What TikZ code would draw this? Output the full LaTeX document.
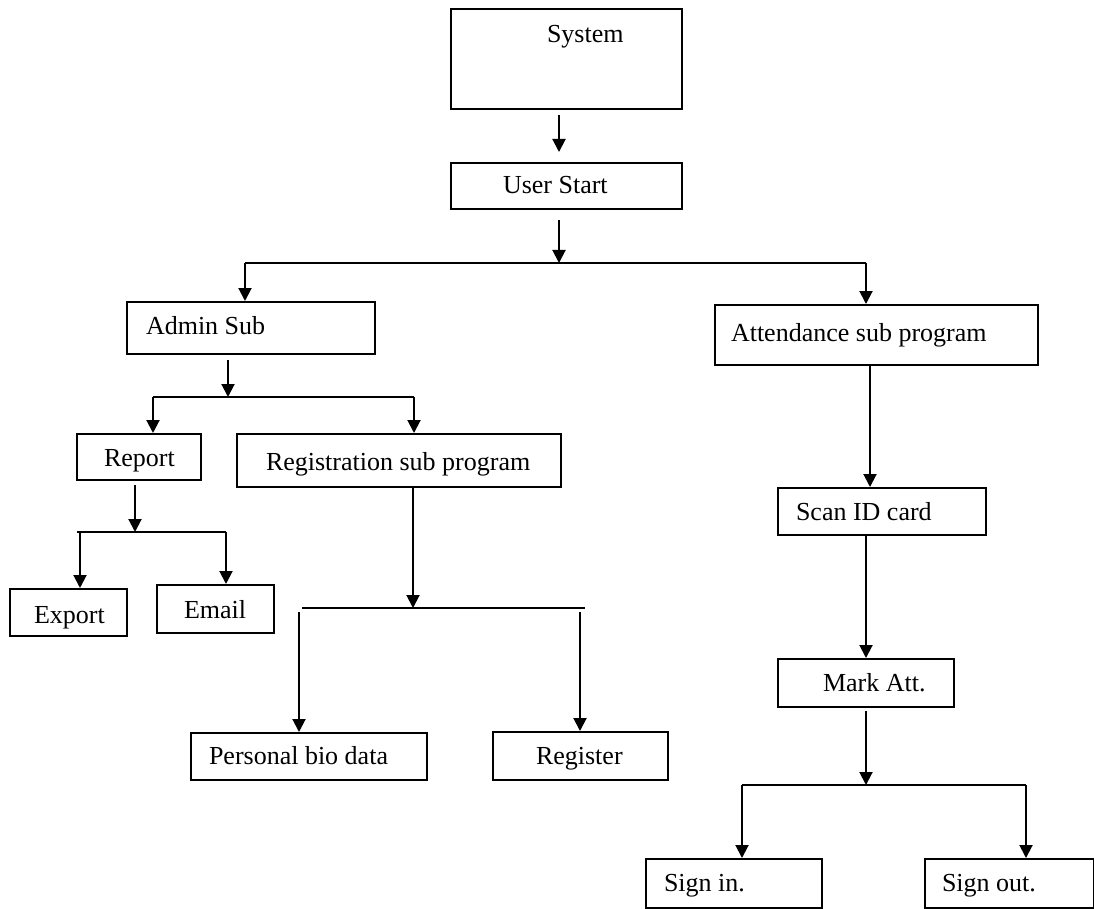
\documentclass[tikz,border=0pt]{standalone}
\usepackage{fontspec}
\setmainfont{Liberation Serif}
\usetikzlibrary{arrows.meta}
\tikzset{
  bx/.style={draw, line width=2pt, inner sep=0pt, anchor=north west,
    font=\fontsize{26}{30}\selectfont},
  arr/.style={line width=2pt, -{Triangle[width=13pt,length=13pt]}},
  ln/.style={line width=2pt}
}
\newcommand{\bt}[3]{\makebox[#1pt][l]{\hspace*{#2pt}#3}}
\begin{document}
\begin{tikzpicture}[x=1pt,y=-1pt]
\useasboundingbox (0,0) rectangle (1094,909);
% boxes
\node[bx, minimum width=231pt, minimum height=100pt, text height=34pt, text depth=66pt] (sys) at (450,8) {\bt{231}{96}{System}};
\node[bx, minimum width=231pt, minimum height=46pt, text height=31pt, text depth=15pt] (us) at (450,162) {\bt{231}{52}{User Start}};
\node[bx, minimum width=248pt, minimum height=52pt, text height=32pt, text depth=20pt] (adm) at (126,301) {\bt{248}{19}{Admin Sub}};
\node[bx, minimum width=323pt, minimum height=60pt, text height=36pt, text depth=24pt] (att) at (714,304) {\bt{323}{16}{Attendance sub program}};
\node[bx, minimum width=124pt, minimum height=46pt, text height=32pt, text depth=14pt] (rep) at (76,433) {\bt{124}{27}{Report}};
\node[bx, minimum width=324pt, minimum height=53pt, text height=36pt, text depth=17pt] (reg) at (236,433) {\bt{324}{29}{Registration sub program}};
\node[bx, minimum width=117pt, minimum height=47pt, text height=34pt, text depth=13pt] (exp) at (9,588) {\bt{117}{24}{Export}};
\node[bx, minimum width=117pt, minimum height=48pt, text height=33pt, text depth=15pt] (eml) at (156,584) {\bt{117}{27}{Email}};
\node[bx, minimum width=236pt, minimum height=47pt, text height=31pt, text depth=16pt] (pbd) at (190,732) {\bt{236}{18}{Personal bio data}};
\node[bx, minimum width=175pt, minimum height=48pt, text height=32pt, text depth=16pt] (rgr) at (492,731) {\bt{175}{43}{Register}};
\node[bx, minimum width=208pt, minimum height=47pt, text height=32pt, text depth=15pt] (scan) at (777,487) {\bt{208}{18}{Scan ID card}};
\node[bx, minimum width=176pt, minimum height=48pt, text height=32pt, text depth=16pt] (mark) at (777,658) {\bt{176}{45}{Mark Att.}};
\node[bx, minimum width=176pt, minimum height=49pt, text height=32pt, text depth=17pt] (sin) at (645,858) {\bt{176}{18}{Sign in.}};
\node[bx, minimum width=169pt, minimum height=49pt, text height=32pt, text depth=17pt] (sout) at (924,858) {\bt{169}{17}{Sign out.}};
% junction coordinates
\coordinate (j0) at (559,152);
\coordinate (j1m) at (559,263);
\coordinate (j1l) at (245,263);
\coordinate (j1r) at (866,263);
\coordinate (j2m) at (228,397);
\coordinate (j2l) at (153,397);
\coordinate (j2r) at (414,397);
\coordinate (j3m) at (135,532);
\coordinate (j3l) at (77,532);
\coordinate (j3r) at (226,532);
\coordinate (j3a) at (80,532);
\coordinate (j4m) at (413,608);
\coordinate (j4l) at (302,608);
\coordinate (j4r) at (585,608);
\coordinate (j4a) at (299,612);
\coordinate (j4b) at (580,612);
\coordinate (ja) at (870,364);
\coordinate (jb) at (866,534);
\coordinate (j5m) at (866,785);
\coordinate (j5l) at (742,785);
\coordinate (j5r) at (1026,785);
% connectors
\draw[arr, shorten <=5pt] (sys.south -| j0) -- (j0);
\draw[arr, shorten <=10pt] (us.south -| j1m) -- (j1m);
\draw[ln] (j1l) -- (j1r);
\draw[arr] (j1l) -- (adm.north -| j1l);
\draw[arr] (j1r) -- (att.north -| j1r);
\draw[arr, shorten <=5pt] (adm.south -| j2m) -- (j2m);
\draw[ln] (j2l) -- (j2r);
\draw[arr] (j2l) -- (rep.north -| j2l);
\draw[arr] (j2r) -- (reg.north -| j2r);
\draw[arr, shorten <=4pt] (rep.south -| j3m) -- (j3m);
\draw[ln] (j3l) -- (j3r);
\draw[arr] (j3a) -- (exp.north -| j3a);
\draw[arr] (j3r) -- (eml.north -| j3r);
\draw[arr] (reg.south -| j4m) -- (j4m);
\draw[ln] (j4l) -- (j4r);
\draw[arr] (j4a) -- (pbd.north -| j4a);
\draw[arr] (j4b) -- (rgr.north -| j4b);
\draw[arr] (att.south -| ja) -- (scan.north -| ja);
\draw[arr] (scan.south -| jb) -- (mark.north -| jb);
\draw[arr, shorten <=3pt] (mark.south -| j5m) -- (j5m);
\draw[ln] (j5l) -- (j5r);
\draw[arr] (j5l) -- (sin.north -| j5l);
\draw[arr] (j5r) -- (sout.north -| j5r);
\end{tikzpicture}
\end{document}
